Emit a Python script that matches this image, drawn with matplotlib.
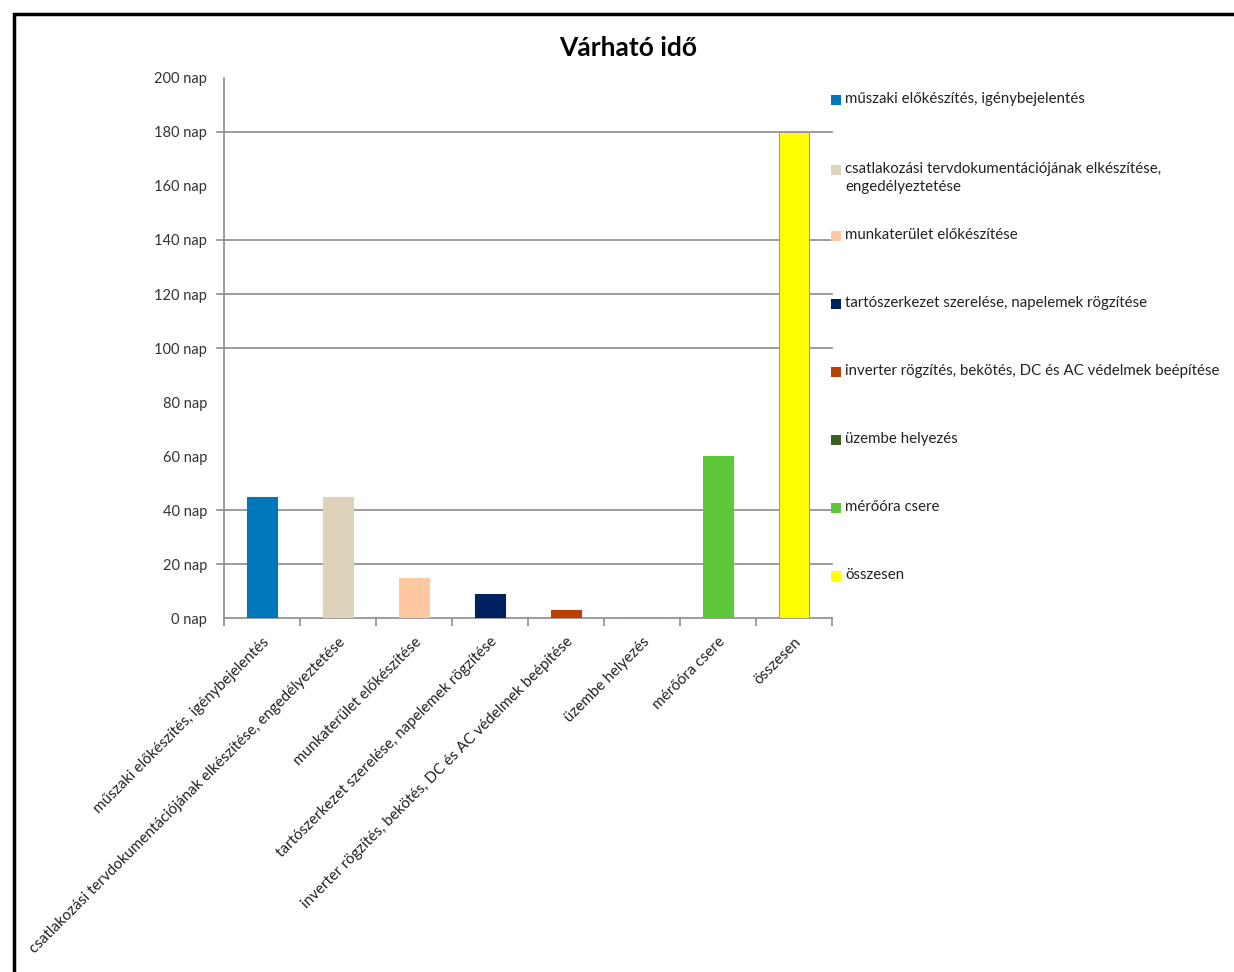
import matplotlib
matplotlib.use("Agg")
import matplotlib.pyplot as plt
from matplotlib.patches import Rectangle
import numpy as np

plt.rcParams['font.family'] = ['Lato', 'DejaVu Sans']

categories = [
    "műszaki előkészítés, igénybejelentés",
    "csatlakozási tervdokumentációjának elkészítése, engedélyeztetése",
    "munkaterület előkészítése",
    "tartószerkezet szerelése, napelemek rögzítése",
    "inverter rögzítés, bekötés, DC és AC védelmek beépítése",
    "üzembe helyezés",
    "mérőóra csere",
    "összesen",
]
legend_labels = [
    "műszaki előkészítés, igénybejelentés",
    "csatlakozási tervdokumentációjának elkészítése,\nengedélyeztetése",
    "munkaterület előkészítése",
    "tartószerkezet szerelése, napelemek rögzítése",
    "inverter rögzítés, bekötés, DC és AC védelmek beépítése",
    "üzembe helyezés",
    "mérőóra csere",
    "összesen",
]
values = [45, 45, 15, 9, 3, 0, 60, 180]
colors = ["#0077BB", "#DDD3BB", "#FFC8A0", "#002060", "#B84000",
          "#3A6020", "#5DC83A", "#FFFF00"]
y_ticks = list(range(0, 201, 20))
y_tick_labels = [f"{v} nap" for v in y_ticks]
grid_values = [20, 40, 100, 120, 140, 180]
title = "Várható idő"

W, H = 1234, 972
fig = plt.figure(figsize=(W / 100, H / 100), dpi=100)

# outer frame
fig.patches.append(Rectangle((14 / W, -0.05), 1.2, (H - 14) / H + 0.05,
                             transform=fig.transFigure, fill=False,
                             edgecolor="black", linewidth=2.5))

ax = fig.add_axes([224 / W, 1 - 618 / H, (832 - 224) / W, (618 - 78) / H])
x = np.arange(len(categories))
for i, (v, c) in enumerate(zip(values, colors)):
    ec = "#9a9a9a" if c == "#FFFF00" else c
    ax.bar(x[i], v, width=0.39, color=c, edgecolor=ec, linewidth=0.8, zorder=3)

ax.set_xlim(-0.5, len(categories) - 0.5)
ax.set_ylim(0, 200)

for g in grid_values:
    ax.axhline(g, xmin=-0.012, xmax=1.0, color="#8c8c8c", linewidth=1.2,
               clip_on=False, zorder=1)

ax.set_yticks(y_ticks)
ax.set_yticklabels(y_tick_labels, fontsize=10.5, color="#333333")
ax.tick_params(axis="y", length=0, pad=12)

ax.set_xticks(x)
ax.set_xticklabels(categories, rotation=45, ha="right", rotation_mode="anchor",
                   fontsize=10.9, color="#222222")
ax.tick_params(axis="x", length=0, pad=12)
ax.set_xticks(np.arange(len(categories) + 1) - 0.5, minor=True)
ax.tick_params(axis="x", which="minor", length=6, color="#8c8c8c", width=1.2)

for s in ["top", "right"]:
    ax.spines[s].set_visible(False)
for s in ["left", "bottom"]:
    ax.spines[s].set_color("#8c8c8c")
    ax.spines[s].set_linewidth(1.2)

fig.text(628 / W, 1 - 48 / H, title, ha="center", va="center",
         fontsize=19, fontweight="bold")

# legend
leg_y = [100, 170, 236, 304, 372, 440, 508, 576]
for yy, lab, c in zip(leg_y, legend_labels, colors):
    fig.patches.append(Rectangle((831 / W, 1 - (yy + 5) / H), 10 / W, 10 / H,
                                 transform=fig.transFigure, facecolor=c,
                                 edgecolor="none"))
    fig.text(845 / W, 1 - (yy - 8) / H, lab, ha="left", va="top",
             fontsize=10.8, color="#222222", linespacing=1.35)

fig.savefig("out.png", dpi=100)
